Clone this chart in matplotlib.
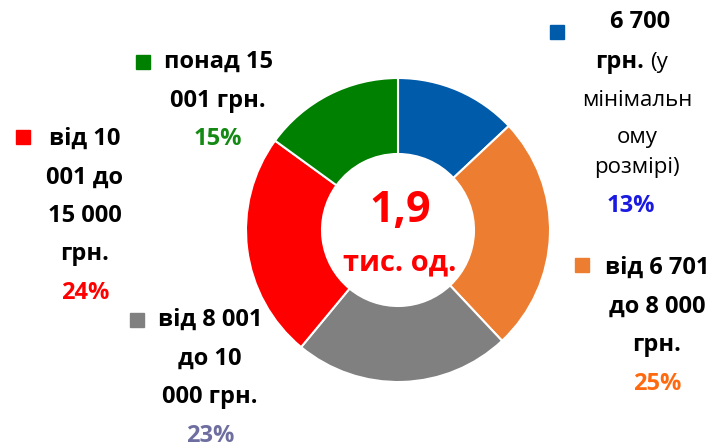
import matplotlib.pyplot as plt
from matplotlib.patches import Rectangle

plt.rcParams['font.family'] = ['Open Sans', 'DejaVu Sans']

# частки кількості за розміром зарплати
categories = ['6 700 грн. (у мінімальному розмірі)', 'від 6 701 до 8 000 грн.',
              'від 8 001 до 10 000 грн.', 'від 10 001 до 15 000 грн.', 'понад 15 001 грн.']
shares = [13, 25, 23, 24, 15]
colors = ['#005BAA', '#ED7D31', '#808080', '#FF0000', '#008000']
pct_colors = ['#1A1AE0', '#FF6A10', '#6E6EA0', '#FF0000', '#148A14']
total_label = ['1,9', 'тис. од.']

W, H = 715, 448
fig = plt.figure(figsize=(W / 100, H / 100), dpi=100)

# кільце
cx, cy, r = 398, 230, 152
ax = fig.add_axes([(cx - r) / W, (H - cy - r) / H, 2 * r / W, 2 * r / H])
ax.pie(shares, colors=colors, startangle=90, counterclock=False, radius=1,
       wedgeprops=dict(width=0.5, edgecolor='white', linewidth=1.5))
ax.set_xlim(-1, 1)
ax.set_ylim(-1, 1)
ax.axis('off')

def px(x, y):
    return x / W, 1 - y / H

# текст в центрі
fig.text(*px(cx + 2, 210), total_label[0], color='#FF0000', fontsize=31, fontweight='bold',
         ha='center', va='center')
fig.text(*px(cx + 2, 263), total_label[1], color='#FF0000', fontsize=21, fontweight='bold',
         ha='center', va='center')

fs = 17
fr = 16
step = 38.5

def label(lines, x, y0, pct, pcol):
    for i, ln in enumerate(lines):
        fig.text(*px(x, y0 + i * step), ln, fontsize=fs, fontweight='bold',
                 ha='center', va='center')
    fig.text(*px(x, y0 + len(lines) * step), pct, fontsize=fs, fontweight='bold',
             color=pcol, ha='center', va='center')

def marker(x, y, col):
    fig.patches.append(Rectangle(px(x - 7, y + 7), 14 / W, 14 / H, color=col,
                                 transform=fig.transFigure, figure=fig))

# 6 700 грн. (у мінімальному розмірі) - змішаний шрифт
marker(557, 32, colors[0])
fig.text(*px(640, 22), '6 700', fontsize=fs, fontweight='bold', ha='center', va='center')
fig.text(*px(644, 62), 'грн.', fontsize=fs, fontweight='bold', ha='right', va='center')
fig.text(*px(650, 62), '(у', fontsize=fr, ha='left', va='center')
fig.text(*px(637, 100), 'мінімальн', fontsize=fr, ha='center', va='center')
fig.text(*px(637, 138), 'ому', fontsize=fr, ha='center', va='center')
fig.text(*px(637, 168), 'розмірі)', fontsize=fr, ha='center', va='center')
fig.text(*px(631, 206), f'{shares[0]}%', fontsize=fs, fontweight='bold',
         color=pct_colors[0], ha='center', va='center')

marker(582, 265, colors[1])
label(['від 6 701', 'до 8 000', 'грн.'], 657, 268, f'{shares[1]}%', pct_colors[1])

marker(137, 320, colors[2])
label(['від 8 001', 'до 10', '000 грн.'], 210, 320, f'{shares[2]}%', pct_colors[2])

marker(23, 137, colors[3])
label(['від 10', '001 до', '15 000', 'грн.'], 85, 139, f'{shares[3]}%', pct_colors[3])

marker(143, 62, colors[4])
label(['понад 15', '001 грн.'], 218, 62, f'{shares[4]}%', pct_colors[4])

fig.savefig('out.png', dpi=100)
